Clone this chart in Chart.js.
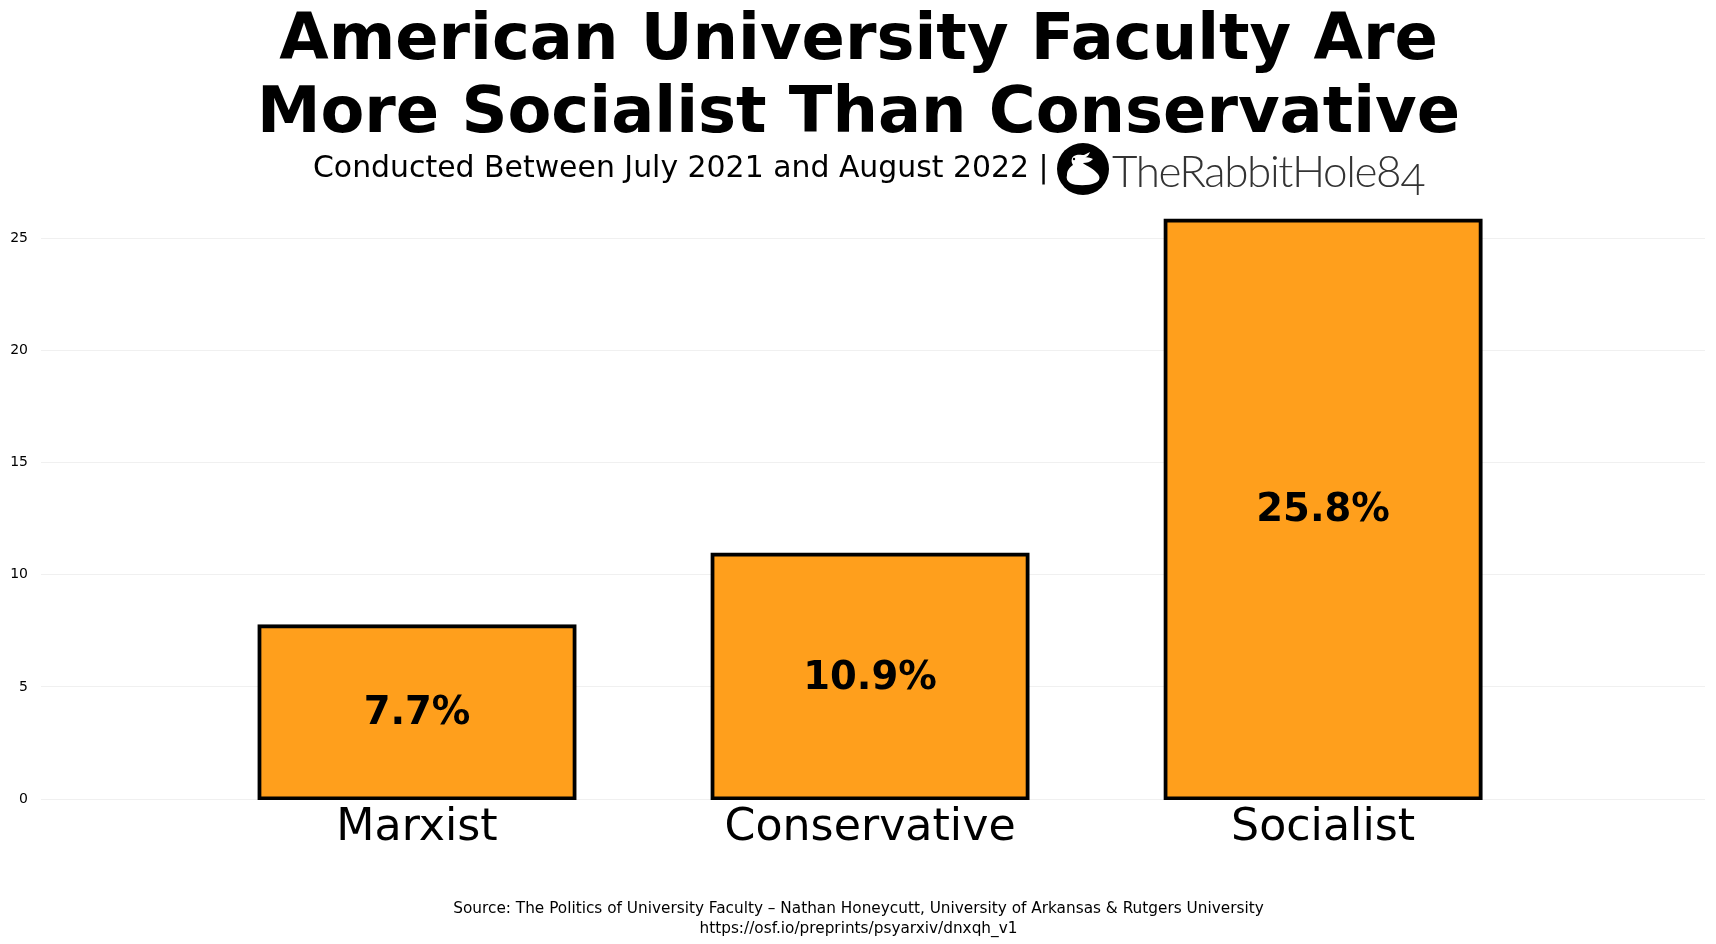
<!DOCTYPE html>
<html>
<head>
<meta charset="utf-8">
<title>American University Faculty</title>
<script src="https://cdn.jsdelivr.net/npm/chart.js@4"></script>
<style>
  html, body { margin: 0; padding: 0; background: #fff; }
  body { width: 1716px; height: 944px; position: relative; overflow: hidden; font-family: "DejaVu Sans", sans-serif; color: #000; }
  canvas { position: absolute; left: 0; top: 0; }
  .line { position: absolute; white-space: nowrap; text-align: center; }
  #title { left: 0; width: 1717px; top: 1px; font-size: 63.9px; font-weight: bold; line-height: 73px; }
  #subtitle { left: 313px; top: 147.5px; font-size: 29.9px; line-height: 38px; }
  #logo { position: absolute; left: 1057px; top: 143px; }
  #brand { left: 1112px; top: 143px; font-family: Lato, sans-serif; font-weight: 300; font-size: 44px; letter-spacing: -1.4px; line-height: 54px; color: #333; }
  #brand span { position: relative; top: 8px; }
  #source { left: 0; width: 1717px; top: 899px; font-size: 15.3px; line-height: 19.5px; }
</style>
</head>
<body>
<canvas id="chart" width="1716" height="944"></canvas>
<div class="line" id="title">American University Faculty Are<br>More Socialist Than Conservative</div>
<div class="line" id="subtitle">Conducted Between July 2021 and August 2022 |</div>
<svg id="logo" width="52" height="52" viewBox="0 0 52 52">
  <circle cx="26" cy="26" r="26" fill="#000"/>
  <path d="M10 32C10 27 13 24 16 22C14 19 14 15 17 13C20 11 25 12 27 12L33 9C32 12 30 14 28 14.5C31 14 33 15 36 16C33 19 30 20 26 20C27 22 35 24 40 30C44 34 43 38 38 40C32 43 18 43 13 40C10 38 9 35 10 32Z" fill="#fff"/>
  <circle cx="17" cy="16" r="1.2" fill="#000"/>
</svg>
<div class="line" id="brand">TheRabbitHole8<span>4</span></div>
<div class="line" id="source">Source: The Politics of University Faculty – Nathan Honeycutt, University of Arkansas &amp; Rutgers University<br>https://osf.io/preprints/psyarxiv/dnxqh_v1</div>

<script>
const categories = ['Marxist', 'Conservative', 'Socialist'];
const values = [7.7, 10.9, 25.8];
const yTicks = [0, 5, 10, 15, 20, 25];

// writes the percentage in the middle of each bar
const barLabels = {
    id: 'barLabels',
    afterDatasetsDraw(chart) {
        const ctx = chart.ctx;
        ctx.save();
        ctx.font = 'bold 38.5px "DejaVu Sans"';
        ctx.fillStyle = '#000';
        ctx.textAlign = 'center';
        ctx.textBaseline = 'middle';
        chart.getDatasetMeta(0).data.forEach((bar, i) => {
            ctx.fillText(values[i].toFixed(1) + '%', bar.x, (bar.y + bar.base) / 2 + 2);
        });
        ctx.restore();
    }
};

new Chart(document.getElementById('chart'), {
    type: 'bar',
    data: {
        datasets: [{
            data: categories.map((c, i) => ({ x: i, y: values[i] })),
            backgroundColor: '#ff9f1c',
            borderColor: '#000',
            borderWidth: 4,
            borderSkipped: false,
            inflateAmount: 2, // stroke sits across the bar edge, not inside it
            barPercentage: 0.696,
            categoryPercentage: 1,
            clip: { left: 5, top: 5, right: 5, bottom: 1 }
        }]
    },
    options: {
        responsive: false,
        animation: false,
        layout: { padding: { top: 220.4, right: 11, bottom: 92, left: 0 } },
        plugins: { legend: { display: false }, tooltip: { enabled: false } },
        scales: {
            x: {
                type: 'linear',
                offset: false,
                min: -0.83,
                max: 2.843,
                afterBuildTicks: s => { s.ticks = categories.map((c, i) => ({ value: i })); },
                afterFit: s => { s.height = 53; },
                grid: { display: false },
                border: { display: false },
                ticks: {
                    autoSkip: false,
                    maxRotation: 0,
                    padding: -5.5,
                    color: '#000',
                    font: { family: '"DejaVu Sans"', size: 44.3 },
                    callback: v => categories[v]
                }
            },
            y: {
                min: 0,
                max: 25.8,
                afterBuildTicks: s => { s.ticks = yTicks.map(v => ({ value: v })); },
                afterFit: s => { s.width = 41; },
                grid: { color: '#f0f0f0', lineWidth: 1, drawTicks: false },
                border: { display: false },
                ticks: {
                    padding: 13,
                    color: '#000',
                    font: { family: '"DejaVu Sans"', size: 14 }
                }
            }
        }
    },
    plugins: [barLabels]
});
</script>
</body>
</html>
